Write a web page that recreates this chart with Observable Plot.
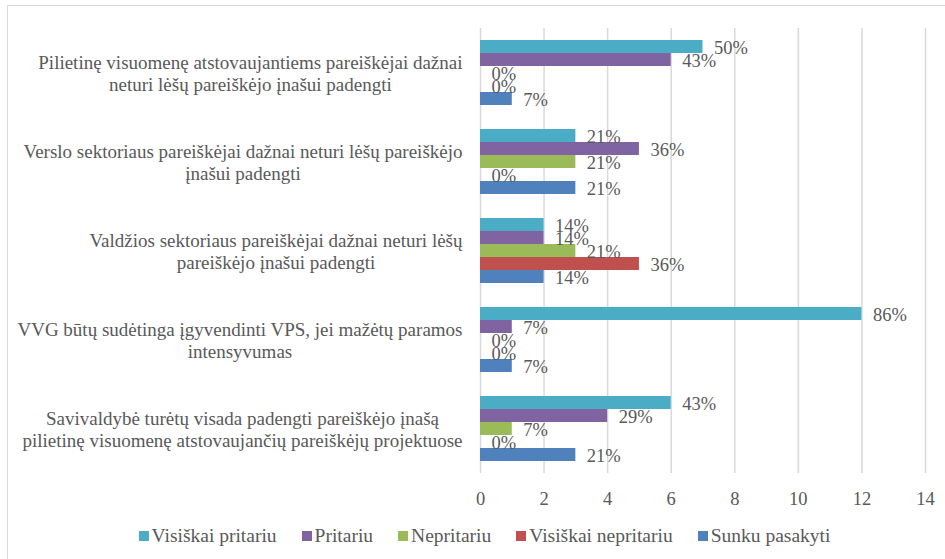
<!DOCTYPE html>
<html>
<head>
<meta charset="utf-8">
<script src="https://cdn.jsdelivr.net/npm/d3@7"></script>
<script src="https://cdn.jsdelivr.net/npm/@observablehq/plot@0.6"></script>
<style>
  html, body { margin: 0; padding: 0; background: #fff; }
  body { width: 945px; height: 559px; position: relative; overflow: hidden; font-family: "Liberation Serif", serif; }
  #frame { position: absolute; left: 7px; top: 5px; width: 1000px; height: 600px; border-left: 1.5px solid #d9d9d9; border-top: 1.5px solid #d9d9d9; box-sizing: border-box; }
  #chart { position: absolute; left: 0; top: 0; }
  #legend { position: absolute; left: 0; top: 525px; width: 945px; display: flex; justify-content: center; padding-left: 24px; box-sizing: border-box; }
  #legend .lg-swatches { margin: 0 !important; min-height: 0 !important; font-family: "Liberation Serif", serif !important; font-size: 19.5px !important; color: #595959 !important; }
  #legend .lg-swatch { margin-right: 25px !important; }
  #legend .lg-swatch:last-child { margin-right: 0 !important; }
  #legend .lg-swatch svg { margin-right: 3px !important; }
</style>
</head>
<body>
<div id="frame"></div>
<div id="chart"></div>
<div id="legend"></div>
<script>
const categories = [
  "Pilietinę visuomenę atstovaujantiems pareiškėjai dažnai\nneturi lėšų pareiškėjo įnašui padengti",
  "Verslo sektoriaus pareiškėjai dažnai neturi lėšų pareiškėjo\nįnašui padengti",
  "Valdžios sektoriaus pareiškėjai dažnai neturi lėšų\npareiškėjo įnašui padengti",
  "VVG būtų sudėtinga įgyvendinti VPS, jei mažėtų paramos\nintensyvumas",
  "Savivaldybė turėtų visada padengti pareiškėjo įnašą\npilietinę visuomenę atstovaujančių pareiškėjų projektuose"
];
const series = ["Visiškai pritariu", "Pritariu", "Nepritariu", "Visiškai nepritariu", "Sunku pasakyti"];
const seriesColors = ["#4BACC6", "#8064A2", "#9BBB59", "#C0504D", "#4F81BD"];
// counts of respondents (out of 14) per category
const visiskaiPritariu   = [7, 3, 2, 12, 6];
const pritariu           = [6, 5, 2, 1, 4];
const nepritariu         = [0, 3, 3, 0, 1];
const visiskaiNepritariu = [0, 0, 5, 0, 0];
const sunkuPasakyti      = [1, 3, 2, 1, 3];
// percentage labels shown next to bars
const pctVisiskaiPritariu   = ["50%", "21%", "14%", "86%", "43%"];
const pctPritariu           = ["43%", "36%", "14%", "7%", "29%"];
const pctNepritariu         = ["0%", "21%", "21%", "0%", "7%"];
const pctVisiskaiNepritariu = ["0%", "0%", "36%", "0%", "0%"];
const pctSunkuPasakyti      = ["7%", "21%", "14%", "7%", "21%"];
const xTicks = [0, 2, 4, 6, 8, 10, 12, 14];

const valueSets = [visiskaiPritariu, pritariu, nepritariu, visiskaiNepritariu, sunkuPasakyti];
const pctSets = [pctVisiskaiPritariu, pctPritariu, pctNepritariu, pctVisiskaiNepritariu, pctSunkuPasakyti];
const rows = [];
categories.forEach((c, i) => {
  series.forEach((s, j) => {
    rows.push({category: c, series: s, value: valueSets[j][i], label: pctSets[j][i]});
  });
});

const textColor = "#595959";
const plot = Plot.plot({
  width: 945,
  height: 515,
  marginTop: 27,
  marginBottom: 41,
  marginLeft: 480,
  marginRight: 20,
  style: {fontFamily: "Liberation Serif, serif", color: textColor, background: "transparent"},
  x: {domain: [0, 14], label: null},
  y: {domain: series, paddingInner: 0, paddingOuter: 0.9, axis: null, label: null},
  fy: {domain: categories, padding: 0, axis: null, label: null},
  color: {domain: series, range: seriesColors},
  marks: [
    Plot.gridX(xTicks, {stroke: "#d9d9d9", strokeOpacity: 1, strokeWidth: 1.5}),
    Plot.barX(rows, {x: "value", y: "series", fy: "category", fill: "series", inset: 0}),
    Plot.text(rows, {x: "value", y: "series", fy: "category", text: "label", textAnchor: "start", dx: 11, dy: 1, fontSize: 18.5, fill: textColor}),
    Plot.axisX(xTicks, {tickSize: 0, tickPadding: 18, fontSize: 18.5, label: null, tickFormat: d => String(d)}),
    Plot.axisFy({anchor: "left", label: null, tickSize: 0, tickPadding: 18, fontSize: 19, lineHeight: 1.17, textAnchor: "end", fill: textColor})
  ]
});
document.getElementById("chart").appendChild(plot);

// center the lines of each multi-line category label on the widest line
plot.querySelectorAll('g[aria-label="fy-axis tick label"] text').forEach(t => {
  const spans = Array.from(t.querySelectorAll("tspan"));
  if (spans.length < 2) return;
  const widths = spans.map(s => s.getComputedTextLength());
  const maxW = Math.max(...widths);
  spans.forEach((s, k) => {
    const base = parseFloat(s.getAttribute("x")) || 0;
    s.setAttribute("x", base - (maxW - widths[k]) / 2);
  });
});

const legend = plot.legend("color", {swatchSize: 10, className: "lg"});
document.getElementById("legend").appendChild(legend);
</script>
</body>
</html>
